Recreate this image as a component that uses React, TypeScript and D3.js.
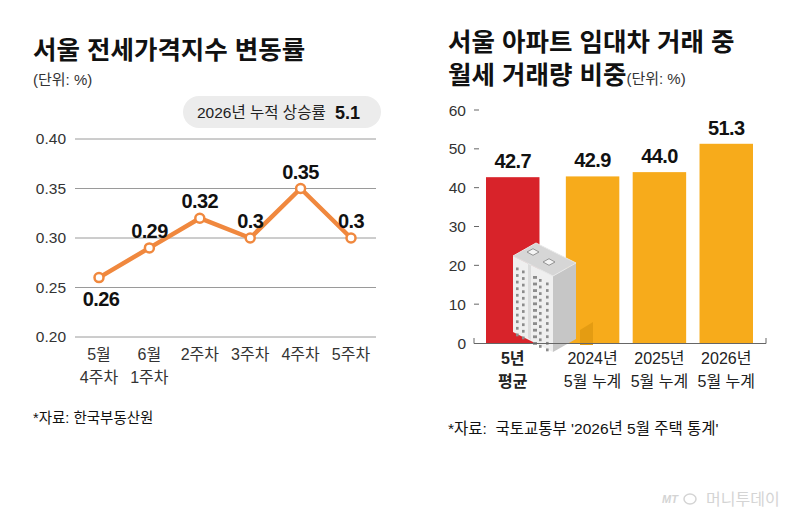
import React from 'react';
import * as d3 from 'd3';

// left chart: weekly change of jeonse price index
const weekLabels = [['5월', '4주차'], ['6월', '1주차'], ['2주차'], ['3주차'], ['4주차'], ['5주차']];
const weekValues = [0.26, 0.29, 0.32, 0.3, 0.35, 0.3];
const weekValueText = ['0.26', '0.29', '0.32', '0.3', '0.35', '0.3'];
const leftTicks = [0.2, 0.25, 0.3, 0.35, 0.4];

// right chart: monthly rent share
const rentLabels = [['5년', '평균'], ['2024년', '5월 누계'], ['2025년', '5월 누계'], ['2026년', '5월 누계']];
const rentValues = [42.7, 42.9, 44.0, 51.3];
const rightTicks = [0, 10, 20, 30, 40, 50, 60];

const FONT = '"Liberation Sans", "Noto Sans CJK KR", sans-serif';
const ORANGE_LINE = '#f0883e';
const BAR_RED = '#d8232a';
const BAR_ORANGE = '#f7ab1b';

function Building() {
	// small decorative apartment block sitting on the first bar
	const pts = (p: number[][]) => p.map(d => d.join(',')).join(' ');
	const left = [[513, 256], [553, 276], [553, 352], [513, 332]];
	const right = [[553, 276], [576, 263], [576, 339], [553, 352]];
	const roof = [[536, 243], [513, 256], [553, 276], [576, 263]];
	// isometric offsets along the left face (dx, dy) and right face
	const sq = (cx: number, cy: number, s: number) =>
		pts([[cx, cy - s * 0.55], [cx - s, cy], [cx, cy + s * 0.55], [cx + s, cy]]);
	const windows: React.ReactNode[] = [];
	const cols = [516, 522, 533, 539, 546];
	for (let r = 0; r < 11; r++) {
		cols.forEach((cx, c) => {
			const yy = 266 + r * 6.6 + (cx - 513) * 0.5;
			windows.push(<rect key={`w${r}-${c}`} x={cx} y={yy} width={c === 2 ? 4 : 2.6} height={2.8} fill="#8c8c8c" />);
		});
	}
	return (
		<g>
			<polygon points="580,330 593,322 593,345 580,345" fill="#e49c12" />
			<polygon points={pts(left)} fill="#efefef" />
			<polygon points="528,263 531,262 531,340 528,338" fill="#dcdcdc" />
			<polygon points={pts(right)} fill="#c6c6c6" />
			<polygon points={pts(roof)} fill="#d6d6d6" stroke="#e8e8e8" strokeWidth={1} />
			<polygon points={sq(533, 252, 6)} fill="#f4f4f4" stroke="#8a8a8a" strokeWidth={0.9} />
			<polygon points={sq(549, 262, 6)} fill="#f4f4f4" stroke="#8a8a8a" strokeWidth={0.9} />
			{windows}
		</g>
	);
}

function LeftChart() {
	const y = d3.scaleLinear().domain([0.2, 0.4]).range([337, 139]);
	const x = d3.scalePoint<number>().domain(d3.range(weekValues.length)).range([99, 351]);
	const line = d3.line<number>().x((_, i) => x(i)!).y(d => y(d));

	return (
		<g fontFamily={FONT}>
			<text x={33} y={59} fontSize={25.5} fontWeight="bold" fill="#111">서울 전세가격지수 변동률</text>
			<text x={33} y={85} fontSize={15} fill="#333">(단위: %)</text>

			<rect x={183} y={96} width={198} height={32} rx={16} fill="#ececec" />
			<text x={197} y={118} fontSize={15.5} fill="#222">2026년 누적 상승률</text>
			<text x={335} y={119} fontSize={18} fontWeight="bold" fill="#111">5.1</text>

			{leftTicks.map(t => (
				<g key={t}>
					<line x1={75} x2={376} y1={y(t)} y2={y(t)} stroke="#9a9a9a" strokeWidth={1} />
					<text x={66} y={y(t) + 5} textAnchor="end" fontSize={15.5} fill="#333">{d3.format('.2f')(t)}</text>
				</g>
			))}

			<path d={line(weekValues) || ''} fill="none" stroke={ORANGE_LINE} strokeWidth={4.5} strokeLinejoin="round" />
			{weekValues.map((v, i) => (
				<circle key={i} cx={x(i)} cy={y(v)} r={4.5} fill="#fff" stroke={ORANGE_LINE} strokeWidth={2.5} />
			))}
			{weekValues.map((v, i) => (
				<text key={`l${i}`} x={x(i)! + (i === 0 ? 2 : 0)} y={i === 0 ? y(v) + 28 : y(v) - 10}
					textAnchor="middle" fontSize={20} fontWeight="bold" fill="#111" letterSpacing={-0.6}>
					{weekValueText[i]}
				</text>
			))}

			{weekLabels.map((lines, i) => (
				<text key={`x${i}`} x={x(i)} textAnchor="middle" fontSize={16} fill="#333">
					{lines.map((s, j) => (
						<tspan key={j} x={x(i)} y={360 + j * 23}>{s}</tspan>
					))}
				</text>
			))}

			<text x={33} y={423} fontSize={14.5} fill="#111">*자료: 한국부동산원</text>
		</g>
	);
}

function RightChart() {
	const y = d3.scaleLinear().domain([0, 60]).range([343, 110]);
	const band = d3.scaleBand<number>().domain(d3.range(rentValues.length)).range([486, 740]).paddingInner(0.2);
	// the average bar sits a little apart from the yearly bars
	const bx = (i: number) => band(i)! + (i > 0 ? 13 : 0);
	const bw = band.bandwidth();

	return (
		<g fontFamily={FONT}>
			<text x={448} y={51} fontSize={25.5} fontWeight="bold" fill="#111">서울 아파트 임대차 거래 중</text>
			<text x={448} y={84} fontSize={25.5} fontWeight="bold" fill="#111">
				월세 거래량 비중<tspan fontSize={15} fontWeight="normal" fill="#333">(단위: %)</tspan>
			</text>

			{rightTicks.map(t => (
				<g key={t}>
					<text x={466} y={y(t) + 5.5} textAnchor="end" fontSize={15.5} fill="#333">{t}</text>
					{t > 0 && <line x1={474} x2={479} y1={y(t)} y2={y(t)} stroke="#666" strokeWidth={1} />}
				</g>
			))}

			{rentValues.map((v, i) => (
				<rect key={i} x={bx(i)} y={y(v)} width={bw} height={y(0) - y(v)} fill={i === 0 ? BAR_RED : BAR_ORANGE} />
			))}

			<Building />

			<path d="M474,338 V343.5 H766 V338" fill="none" stroke="#666" strokeWidth={1} />

			{rentValues.map((v, i) => (
				<text key={`v${i}`} x={bx(i) + bw / 2} y={y(v) - 9} textAnchor="middle" fontSize={20} fontWeight="bold" fill="#111" letterSpacing={-0.6}>
					{d3.format('.1f')(v)}
				</text>
			))}

			{rentLabels.map((lines, i) => (
				<text key={`x${i}`} textAnchor="middle" fontSize={16} fill="#222" fontWeight={i === 0 ? 'bold' : 'normal'}>
					{lines.map((s, j) => (
						<tspan key={j} x={bx(i) + bw / 2} y={364 + j * 23}>{s}</tspan>
					))}
				</text>
			))}

			<text x={448} y={434} fontSize={15.5} fill="#111" xmlSpace="preserve">*자료:  국토교통부 '2026년 5월 주택 통계'</text>
		</g>
	);
}

export default function App() {
	return (
		<svg width={800} height={515} style={{ display: 'block', position: 'absolute', left: 0, top: 0, background: '#fff' }}>
			<rect width={800} height={515} fill="#fff" />
			<LeftChart />
			<RightChart />
			<g fontFamily={FONT} fill="#d4d4d4">
				<text x={662} y={503} fontSize={11} fontStyle="italic" fontWeight="bold">MT</text>
				<ellipse cx={690} cy={499} rx={6} ry={5} fill="none" stroke="#d4d4d4" strokeWidth={1.5} />
				<text x={706} y={505} fontSize={16}>머니투데이</text>
			</g>
		</svg>
	);
}
